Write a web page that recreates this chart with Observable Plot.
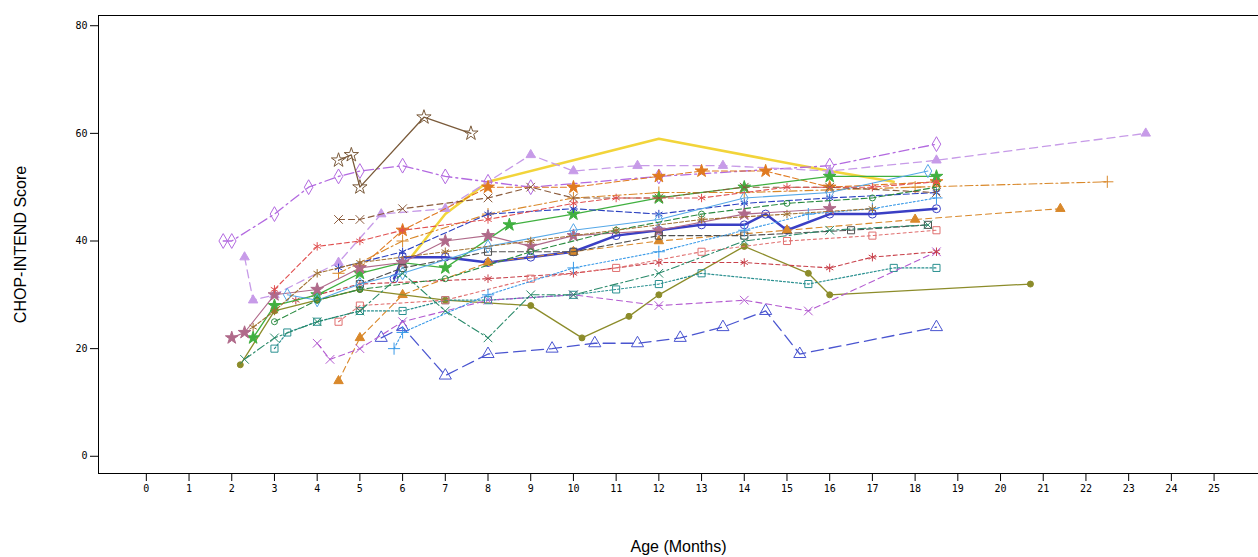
<!DOCTYPE html>
<html><head><meta charset="utf-8">
<script src="https://cdn.jsdelivr.net/npm/d3@7"></script>
<script src="https://cdn.jsdelivr.net/npm/@observablehq/plot@0.6"></script>
<style>
body{margin:0;background:#fff}
svg [aria-label="x-axis label"] text, svg [aria-label="y-axis label"] text{font:16px "Liberation Sans",Arial,sans-serif;fill:#000}
</style></head>
<body><div id="chart"></div>
<script>
// each subject: [age (months), CHOP-INTEND score] pairs
const subjects = [
  [[6.2,37],[7,45],[8,51],[10,55],[12,59],[16,53],[17.5,51]],
  [[5.8,33],[6,37],[7,37],[8,36],[9,37],[10,38],[11,41],[12,42],[13,43],[14,43],[14.5,45],[15,42],[16,45],[17,45],[18.5,46]],
  [[1.8,40],[2,40],[3,45],[3.8,50],[4.5,52],[5,53],[6,54],[7,52],[8,51],[9,50],[12,52],[16,54],[18.5,58]],
  [[4.5,55],[4.8,56],[5,50],[6.5,63],[7.6,60]],
  [[2.3,37],[2.5,29],[3,30],[4.5,36],[5.5,45],[7,46],[9,56],[10,53],[11.5,54],[13.5,54],[16,53],[18.5,55],[23.4,60]],
  [[4.5,34],[6,40],[8,45],[10,48],[12,49],[14,49],[18,50],[22.5,51]],
  [[4.5,14],[5,22],[6,30],[8,36],[10,38],[12,40],[15,42],[18,44],[21.4,46]],
  [[2.2,17],[3,27],[4,29],[5,31],[7,29],[9,28],[10.2,22],[11.3,26],[12,30],[14,39],[15.5,34],[16,30],[20.7,32]],
  [[5.5,22],[6,24],[7,15],[8,19],[9.5,20],[10.5,21],[11.5,21],[12.5,22],[13.5,24],[14.5,27],[15.3,19],[18.5,24]],
  [[3,20],[3.3,23],[4,25],[5,27],[6,27],[7,29],[8,29],[10,30],[11,31],[12,32],[13,34],[15.5,32],[17.5,35],[18.5,35]],
  [[4,21],[4.3,18],[5,20],[6,25],[8,29],[10,30],[12,28],[14,29],[15.5,27],[18.5,38]],
  [[3.5,29],[5,32],[8,33],[10,34],[12,36],[14,36],[16,35],[17,37],[18.5,38]],
  [[5,35],[6,42],[8,50],[10,50],[12,52],[13,53],[14.5,53],[16,50],[18.5,51]],
  [[2.5,22],[3,28],[4,30],[5,34],[6,36],[7,35],[8.5,43],[10,45],[12,48],[14,50],[16,52],[18.5,52]],
  [[2,22],[2.3,23],[3,30],[4,31],[5,35],[6,36],[7,40],[8,41],[9,39],[10,41],[12,42],[14,45],[16,46]],
  [[5,32],[6,35],[8,38],[10,38],[12,41],[14,41],[16.5,42],[18.3,43]],
  [[4.5,35],[6,38],[8,45],[10,46],[12,45],[14,47],[16,48],[18.5,49]],
  [[3.3,30],[4,29],[5,32],[6,34],[8,39],[10,42],[12,44],[14,48],[16,49],[18.3,53]],
  [[4.5,25],[5,28],[7,29],[9,33],[11,35],[13,38],[15,40],[17,41],[18.5,42]],
  [[2.3,18],[3,22],[4,25],[5,27],[6,34],[7,27],[8,22],[9,30],[10,30],[12,34],[14,40],[16,42],[18.3,43]],
  [[3,25],[4,29],[5,31],[7,33],[9,38],[11,42],[13,45],[15,47],[17,48],[18.5,50]],
  [[4.5,44],[5,44],[6,46],[8,48],[9,50],[10,48],[12,48],[14,50],[16,50],[18.5,49]],
  [[5.8,20],[6,23],[8,30],[10,35],[12,38],[14,42],[15.5,45],[17,46],[18.5,48]],
  [[2.5,24],[3,27],[4,34],[5,36],[7,38],[9,40],[11,42],[13,44],[15,45],[17,46]],
  [[3,31],[4,39],[5,40],[6,42],[8,44],[10,47],[11,48],[13,48],[15,50],[17,50],[18.5,51]]
];
const xTicks = d3.range(0, 26);
const yTicks = [0, 20, 40, 60, 80];

// drawing style per subject: colour, symbol, filled, dash, width, radius
const styles = [
  ["#f2d43a","circle",false,null,2.5,0],
  ["#3a3fc4","circle",false,null,2.5,4],
  ["#b36ae0","diamond",false,"10,4,2,4",1.3,4.5],
  ["#7a5a3a","star",false,null,1.3,4.5],
  ["#c79be8","triangle",true,"8,5",1.3,3.5],
  ["#d9882a","plus",false,"8,3,2,3",1.1,4],
  ["#d9882a","triangle",true,"6,4",1.1,3.5],
  ["#8c8c2a","circle",true,null,1.3,3],
  ["#4a55d0","triangle",false,"12,6",1.3,4.5],
  ["#2a9090","square",false,"2,2",1.2,4],
  ["#b35ad0","times",false,"6,4",1.1,4],
  ["#c8404a","asterisk",false,"4,3",1.1,4],
  ["#e07a20","star",true,"6,3",1.1,4],
  ["#40b040","star",true,null,1.3,4],
  ["#b06a8a","star",true,null,1.1,4],
  ["#505050","square",false,"6,3",1.1,4],
  ["#2a40c0","asterisk",false,"6,3",1.1,4],
  ["#55a8e8","diamond",false,null,1.1,4],
  ["#e07070","square",false,"3,3",1.1,4],
  ["#2a8a6a","times",false,"8,3,2,3",1.1,4],
  ["#2a8a40","circle",false,"6,3",1.1,3],
  ["#8a5a3a","times",false,"6,4",1.1,4],
  ["#3a9ae8","plus",false,"2,2",1.1,4],
  ["#a07030","asterisk",false,"4,2",1.1,4],
  ["#e05050","asterisk",false,"5,3",1.1,4]
];

const rows = subjects.flatMap((pts, i) => pts.map(([age, score]) => ({id: i, age, score})));

const marks = [Plot.frame({stroke: "#000"})];
subjects.forEach((pts, i) => {
  const [color, symbol, filled, dash, w, r] = styles[i];
  const data = rows.filter(d => d.id === i);
  marks.push(Plot.line(data, {x: "age", y: "score", stroke: color, strokeWidth: w, strokeDasharray: dash}));
  if (r > 0) marks.push(Plot.dot(data, {x: "age", y: "score", symbol: () => symbol, r, stroke: color, fill: filled ? color : "none", strokeWidth: 1}));
});

const chart = Plot.plot({
  width: 1258, height: 557,
  marginLeft: 98, marginRight: 0, marginTop: 15, marginBottom: 84,
  style: {fontFamily: "DejaVu Sans Mono, monospace", fontSize: "10px", color: "#000", background: "#fff"},
  x: {domain: [-1.12, 26.04], ticks: xTicks, tickFormat: d => d, label: "Age (Months)", labelArrow: "none", labelAnchor: "center", labelOffset: 78, tickSize: 8},
  y: {domain: [-3.2, 81.9], ticks: yTicks, label: "CHOP-INTEND Score", labelArrow: "none", labelAnchor: "center", labelOffset: 84, tickSize: 8},
  marks
});
d3.select("#chart").append(() => chart);
</script></body></html>
